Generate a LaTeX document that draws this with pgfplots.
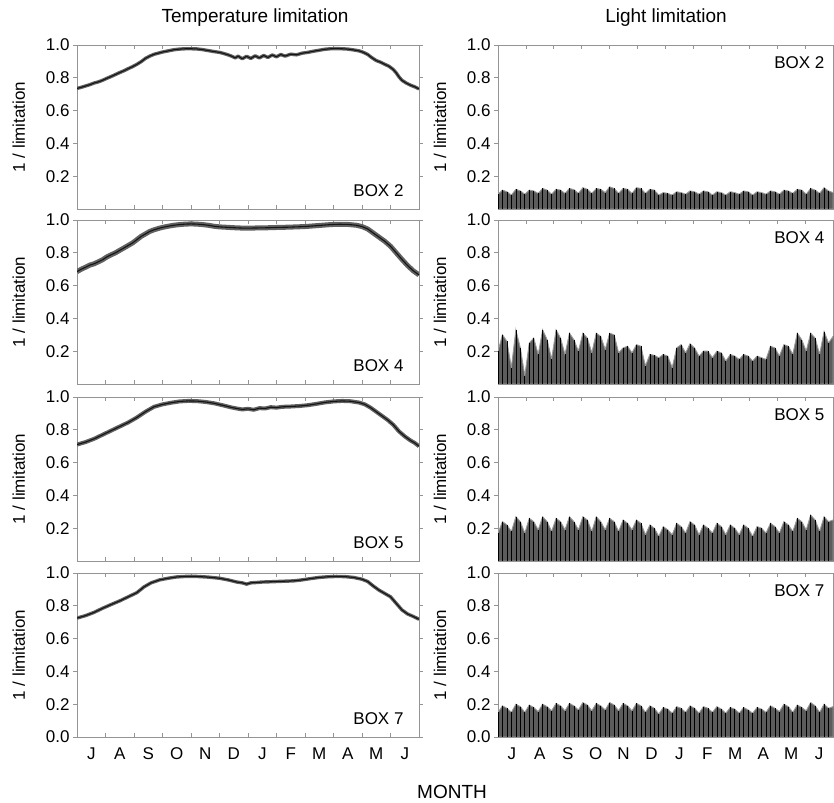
\documentclass[border=0pt]{standalone}
\usepackage{fontspec}
\setmainfont{Liberation Sans}
\usepackage{pgfplots}
\usepackage{pgfplotstable}
\pgfplotsset{compat=1.18}

\pgfplotstableread{
x y
0.00 0.735
0.15 0.742
0.30 0.750
0.45 0.758
0.60 0.768
0.75 0.775
0.90 0.785
1.05 0.797
1.20 0.808
1.35 0.820
1.50 0.832
1.65 0.843
1.80 0.856
1.95 0.868
2.10 0.882
2.25 0.898
2.40 0.918
2.55 0.932
2.70 0.943
2.85 0.950
3.00 0.957
3.20 0.964
3.40 0.971
3.60 0.975
3.80 0.977
4.00 0.977
4.20 0.976
4.40 0.972
4.60 0.966
4.80 0.960
5.00 0.955
5.15 0.948
5.30 0.940
5.45 0.930
5.55 0.921
5.65 0.932
5.80 0.916
5.95 0.931
6.10 0.918
6.25 0.934
6.40 0.921
6.55 0.936
6.70 0.924
6.85 0.939
7.00 0.928
7.15 0.942
7.30 0.932
7.50 0.944
7.70 0.940
7.90 0.950
8.10 0.955
8.30 0.962
8.50 0.968
8.70 0.974
8.90 0.977
9.10 0.978
9.30 0.977
9.50 0.975
9.70 0.970
9.90 0.964
10.05 0.955
10.20 0.942
10.35 0.922
10.50 0.905
10.65 0.895
10.80 0.882
10.95 0.870
11.10 0.850
11.20 0.830
11.30 0.805
11.40 0.785
11.55 0.768
11.70 0.755
11.85 0.745
12.00 0.732
}\tempA

\pgfplotstableread{
x y
0.00 0.685
0.15 0.700
0.30 0.712
0.45 0.725
0.60 0.733
0.75 0.745
0.90 0.758
1.05 0.775
1.20 0.788
1.35 0.800
1.50 0.815
1.65 0.830
1.80 0.845
1.95 0.860
2.10 0.880
2.25 0.900
2.40 0.915
2.55 0.930
2.70 0.940
2.85 0.948
3.00 0.955
3.20 0.962
3.40 0.968
3.60 0.972
3.80 0.975
4.00 0.976
4.20 0.975
4.40 0.972
4.60 0.968
4.80 0.962
5.00 0.958
5.30 0.955
5.60 0.952
5.90 0.950
6.20 0.951
6.50 0.952
6.80 0.953
7.10 0.955
7.40 0.956
7.70 0.958
8.00 0.960
8.30 0.964
8.60 0.968
8.90 0.972
9.20 0.974
9.50 0.973
9.80 0.968
10.00 0.960
10.20 0.945
10.40 0.920
10.60 0.895
10.80 0.870
11.00 0.840
11.20 0.800
11.40 0.760
11.60 0.722
11.80 0.690
12.00 0.665
}\tempB

\pgfplotstableread{
x y
0.00 0.710
0.30 0.725
0.60 0.745
0.90 0.770
1.20 0.795
1.50 0.820
1.80 0.845
2.10 0.875
2.40 0.910
2.70 0.940
3.00 0.955
3.30 0.965
3.60 0.973
3.90 0.976
4.20 0.975
4.50 0.970
4.80 0.962
5.10 0.950
5.40 0.937
5.60 0.930
5.80 0.924
6.00 0.928
6.20 0.922
6.40 0.932
6.60 0.930
6.80 0.938
7.00 0.935
7.20 0.940
7.50 0.942
7.80 0.945
8.10 0.950
8.40 0.958
8.70 0.967
9.00 0.973
9.30 0.976
9.60 0.974
9.90 0.966
10.10 0.955
10.30 0.935
10.50 0.910
10.70 0.885
10.90 0.860
11.10 0.830
11.30 0.790
11.50 0.760
11.70 0.735
11.85 0.720
12.00 0.700
}\tempC

\pgfplotstableread{
x y
0.00 0.725
0.30 0.740
0.60 0.760
0.90 0.785
1.20 0.808
1.50 0.830
1.80 0.855
2.10 0.880
2.35 0.915
2.60 0.940
2.90 0.958
3.20 0.968
3.50 0.976
3.80 0.979
4.20 0.979
4.60 0.975
5.00 0.968
5.30 0.958
5.60 0.945
5.80 0.940
5.95 0.932
6.10 0.940
6.30 0.942
6.50 0.945
6.70 0.946
7.00 0.948
7.30 0.950
7.60 0.952
7.90 0.958
8.20 0.966
8.50 0.973
8.80 0.977
9.10 0.979
9.40 0.978
9.70 0.973
10.00 0.962
10.20 0.948
10.40 0.920
10.60 0.895
10.80 0.875
11.00 0.855
11.20 0.815
11.40 0.775
11.60 0.750
11.80 0.735
12.00 0.718
}\tempD

\pgfplotstableread{
x y
0.00 0.090
0.16 0.115
0.32 0.105
0.48 0.085
0.64 0.120
0.80 0.110
0.96 0.090
1.12 0.115
1.28 0.110
1.44 0.095
1.60 0.125
1.76 0.115
1.92 0.090
2.08 0.120
2.24 0.115
2.40 0.095
2.56 0.125
2.72 0.118
2.88 0.095
3.04 0.130
3.20 0.120
3.36 0.095
3.52 0.125
3.68 0.120
3.84 0.100
4.00 0.135
4.16 0.125
4.32 0.095
4.48 0.125
4.64 0.120
4.80 0.095
4.96 0.130
5.12 0.125
5.28 0.095
5.44 0.120
5.60 0.115
5.76 0.085
5.92 0.100
6.08 0.095
6.24 0.085
6.40 0.105
6.56 0.100
6.72 0.090
6.88 0.110
7.04 0.105
7.20 0.090
7.36 0.110
7.52 0.105
7.68 0.085
7.84 0.105
8.00 0.100
8.16 0.085
8.32 0.105
8.48 0.100
8.64 0.090
8.80 0.110
8.96 0.105
9.12 0.085
9.28 0.105
9.44 0.100
9.60 0.090
9.76 0.110
9.92 0.105
10.08 0.090
10.24 0.115
10.40 0.110
10.56 0.095
10.72 0.120
10.88 0.115
11.04 0.090
11.20 0.125
11.36 0.115
11.52 0.095
11.68 0.130
11.84 0.110
12.00 0.100
}\lightA

\pgfplotstableread{
x y
0.00 0.200
0.16 0.300
0.32 0.260
0.48 0.100
0.64 0.330
0.80 0.220
0.96 0.050
1.12 0.250
1.28 0.280
1.44 0.180
1.60 0.330
1.76 0.270
1.92 0.150
2.08 0.330
2.24 0.280
2.40 0.180
2.56 0.310
2.72 0.270
2.88 0.200
3.04 0.310
3.20 0.280
3.36 0.190
3.52 0.310
3.68 0.290
3.84 0.210
4.00 0.310
4.16 0.300
4.32 0.190
4.48 0.220
4.64 0.230
4.80 0.190
4.96 0.240
5.12 0.230
5.28 0.110
5.44 0.180
5.60 0.175
5.76 0.160
5.92 0.180
6.08 0.170
6.24 0.100
6.40 0.220
6.56 0.240
6.72 0.190
6.88 0.245
7.04 0.220
7.20 0.170
7.36 0.200
7.52 0.200
7.68 0.160
7.84 0.200
8.00 0.190
8.16 0.140
8.32 0.180
8.48 0.170
8.64 0.150
8.80 0.180
8.96 0.170
9.12 0.140
9.28 0.170
9.44 0.160
9.60 0.150
9.76 0.230
9.92 0.220
10.08 0.170
10.24 0.240
10.40 0.230
10.56 0.180
10.72 0.310
10.88 0.270
11.04 0.200
11.20 0.310
11.36 0.280
11.52 0.180
11.68 0.320
11.84 0.250
12.00 0.290
}\lightB

\pgfplotstableread{
x y
0.00 0.170
0.16 0.240
0.32 0.220
0.48 0.180
0.64 0.270
0.80 0.240
0.96 0.170
1.12 0.260
1.28 0.240
1.44 0.190
1.60 0.270
1.76 0.240
1.92 0.180
2.08 0.260
2.24 0.240
2.40 0.190
2.56 0.270
2.72 0.240
2.88 0.190
3.04 0.270
3.20 0.250
3.36 0.180
3.52 0.270
3.68 0.240
3.84 0.190
4.00 0.260
4.16 0.240
4.32 0.180
4.48 0.250
4.64 0.230
4.80 0.190
4.96 0.250
5.12 0.230
5.28 0.160
5.44 0.220
5.60 0.200
5.76 0.150
5.92 0.210
6.08 0.190
6.24 0.160
6.40 0.230
6.56 0.210
6.72 0.170
6.88 0.240
7.04 0.220
7.20 0.160
7.36 0.220
7.52 0.200
7.68 0.170
7.84 0.230
8.00 0.210
8.16 0.160
8.32 0.220
8.48 0.200
8.64 0.160
8.80 0.220
8.96 0.200
9.12 0.150
9.28 0.210
9.44 0.200
9.60 0.170
9.76 0.230
9.92 0.210
10.08 0.170
10.24 0.240
10.40 0.220
10.56 0.180
10.72 0.260
10.88 0.240
11.04 0.190
11.20 0.280
11.36 0.250
11.52 0.180
11.68 0.270
11.84 0.240
12.00 0.250
}\lightC

\pgfplotstableread{
x y
0.00 0.150
0.16 0.190
0.32 0.175
0.48 0.150
0.64 0.200
0.80 0.185
0.96 0.150
1.12 0.195
1.28 0.180
1.44 0.155
1.60 0.200
1.76 0.185
1.92 0.160
2.08 0.205
2.24 0.190
2.40 0.160
2.56 0.205
2.72 0.190
2.88 0.165
3.04 0.210
3.20 0.195
3.36 0.160
3.52 0.205
3.68 0.190
3.84 0.165
4.00 0.210
4.16 0.195
4.32 0.160
4.48 0.205
4.64 0.190
4.80 0.160
4.96 0.205
5.12 0.190
5.28 0.150
5.44 0.190
5.60 0.175
5.76 0.140
5.92 0.180
6.08 0.170
6.24 0.145
6.40 0.185
6.56 0.175
6.72 0.150
6.88 0.190
7.04 0.175
7.20 0.145
7.36 0.185
7.52 0.175
7.68 0.150
7.84 0.185
8.00 0.170
8.16 0.145
8.32 0.180
8.48 0.170
8.64 0.145
8.80 0.180
8.96 0.165
9.12 0.145
9.28 0.180
9.44 0.170
9.60 0.150
9.76 0.190
9.92 0.175
10.08 0.155
10.24 0.200
10.40 0.185
10.56 0.150
10.72 0.195
10.88 0.180
11.04 0.160
11.20 0.210
11.36 0.190
11.52 0.150
11.68 0.200
11.84 0.175
12.00 0.185
}\lightD

\tikzset{boxl/.style={anchor=east, font=\fontsize{17}{20}\selectfont}}
\pgfplotsset{
  base/.style={
    scale only axis, height=164pt,
    xmin=0, xmax=12, ymin=0, ymax=1,
    axis line style={draw=black!42, line width=0.8pt},
    every tick/.style={draw=black!42, line width=0.8pt},
    tick label style={font=\fontsize{17}{17}\selectfont},
    /pgf/number format/assume math mode=true,
    yticklabel style={/pgf/number format/.cd, fixed, fixed zerofill, precision=1},
    ytick={0.2,0.4,0.6,0.8,1.0},
    xtick={0.5,1.5,...,11.5}, xticklabels={},
    minor xtick={0,1,...,12},
    major x tick style={draw=none},
    major tick length=4pt, minor tick length=4pt,
    xtick align=inside, ytick align=outside,
    ylabel={1 / limitation},
  },
  lft/.style={base, width=342pt,
    ylabel style={font=\fontsize{17}{20}\selectfont, at={(axis description cs:-0.170,0.5)}, anchor=center}},
  rgt/.style={base, width=335pt,
    ylabel style={font=\fontsize{17}{20}\selectfont, at={(axis description cs:-0.173,0.5)}, anchor=center}},
  bottomrow/.style={ytick={0,0.2,0.4,0.6,0.8,1.0},
    xticklabels={J,A,S,O,N,D,J,F,M,A,M,J},
    xticklabel style={font=\fontsize{17}{17}\selectfont, yshift=-7pt}},
  tline/.style={draw=black!62, line width=3.4pt, line join=round},
  tcore/.style={draw=black!92, line width=1.1pt, line join=round},
  lfill/.style={fill=black!64, draw=black!40, line width=0.9pt},
  lcomb/.style={ycomb, draw=black, line width=0.7pt},
}

\begin{document}
\begin{tikzpicture}
\useasboundingbox (0,0) rectangle (834pt,802pt);
% left column
\begin{axis}[lft, at={(77pt,593pt)}, anchor=south west]
\addplot[tline] table {\tempA};
\addplot[tcore] table {\tempA};
\node[boxl] at (axis description cs:0.965,0.11) {BOX 2};
\end{axis}
\begin{axis}[lft, at={(77pt,418pt)}, anchor=south west]
\addplot[tline, line width=5pt] table {\tempB};
\addplot[tcore] table {\tempB};
\node[boxl] at (axis description cs:0.965,0.11) {BOX 4};
\end{axis}
\begin{axis}[lft, at={(77pt,241pt)}, anchor=south west]
\addplot[tline, line width=4pt] table {\tempC};
\addplot[tcore] table {\tempC};
\node[boxl] at (axis description cs:0.965,0.11) {BOX 5};
\end{axis}
\begin{axis}[lft, bottomrow, at={(77pt,65pt)}, anchor=south west]
\addplot[tline] table {\tempD};
\addplot[tcore] table {\tempD};
\node[boxl] at (axis description cs:0.965,0.11) {BOX 7};
\end{axis}
% right column
\begin{axis}[rgt, at={(498pt,593pt)}, anchor=south west]
\addplot[lfill] table {\lightA} \closedcycle;
\addplot[lcomb] table {\lightA};
\node[boxl] at (axis description cs:0.985,0.89) {BOX 2};
\end{axis}
\begin{axis}[rgt, at={(498pt,418pt)}, anchor=south west]
\addplot[lfill] table {\lightB} \closedcycle;
\addplot[lcomb] table {\lightB};
\node[boxl] at (axis description cs:0.985,0.89) {BOX 4};
\end{axis}
\begin{axis}[rgt, at={(498pt,241pt)}, anchor=south west]
\addplot[lfill] table {\lightC} \closedcycle;
\addplot[lcomb] table {\lightC};
\node[boxl] at (axis description cs:0.985,0.89) {BOX 5};
\end{axis}
\begin{axis}[rgt, bottomrow, at={(498pt,65pt)}, anchor=south west]
\addplot[lfill] table {\lightD} \closedcycle;
\addplot[lcomb] table {\lightD};
\node[boxl] at (axis description cs:0.985,0.89) {BOX 7};
\end{axis}
% titles
\node[font=\fontsize{19}{22}\selectfont] at (255pt,784pt) {Temperature limitation};
\node[font=\fontsize{19}{22}\selectfont] at (666pt,784pt) {Light limitation};
\node[font=\fontsize{19}{22}\selectfont] at (452pt,10pt) {MONTH};
\end{tikzpicture}
\end{document}
